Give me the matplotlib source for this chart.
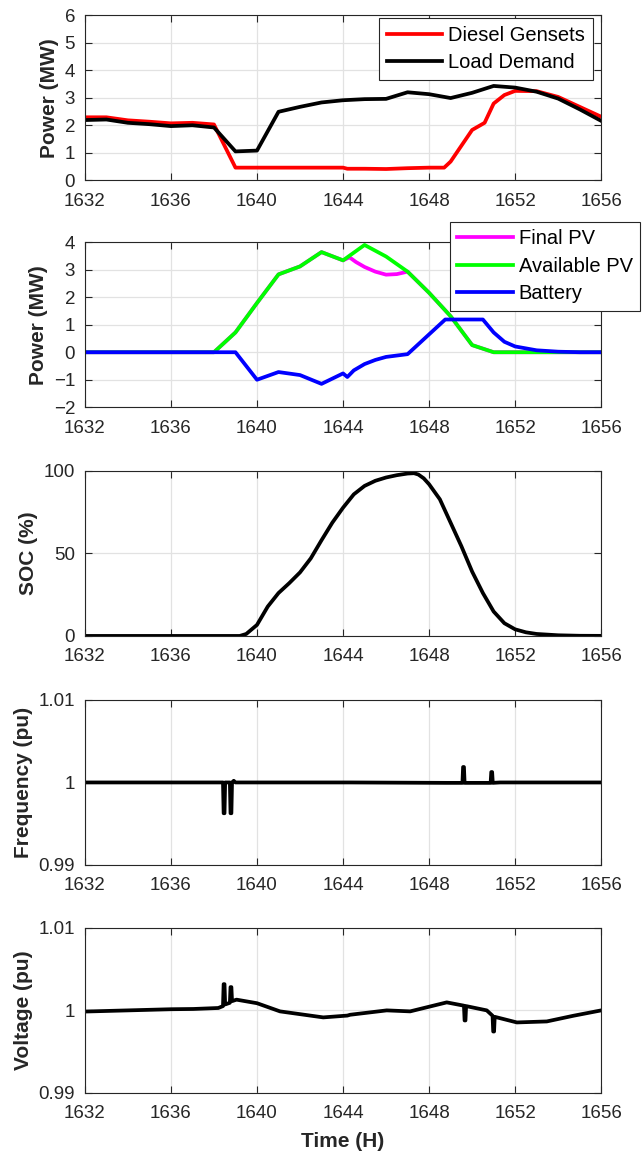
import matplotlib
matplotlib.use("Agg")
import matplotlib.pyplot as plt

plt.rcParams['font.family'] = ['Liberation Sans', 'DejaVu Sans']

# ---- panel 1: diesel gensets / load demand (MW)
hours = list(range(1632, 1657))
load_demand = [2.19, 2.21, 2.09, 2.04, 1.97, 2.00, 1.92, 1.05, 1.08, 2.49, 2.67, 2.83, 2.91,
               2.95, 2.96, 3.20, 3.13, 2.99, 3.18, 3.43, 3.37, 3.22, 2.97, 2.58, 2.16]
diesel_t = [1632, 1633, 1634, 1635, 1636, 1637, 1638, 1639, 1640, 1641, 1642, 1643, 1644,
            1644.2, 1645, 1646, 1647, 1648, 1648.7, 1649, 1650, 1650.58, 1651, 1651.5, 1652,
            1653, 1654, 1655, 1656]
diesel = [2.29, 2.29, 2.18, 2.13, 2.07, 2.09, 2.03, 0.46, 0.46, 0.46, 0.46, 0.46, 0.46,
          0.42, 0.42, 0.41, 0.44, 0.46, 0.46, 0.68, 1.83, 2.09, 2.79, 3.10, 3.25,
          3.24, 3.03, 2.67, 2.31]

# ---- panel 2: PV and battery (MW)
avail_pv = [0, 0, 0, 0, 0, 0, 0, 0.72, 1.79, 2.83, 3.12, 3.64, 3.34, 3.90, 3.48, 2.93,
            2.16, 1.31, 0.26, 0, 0, 0, 0, 0, 0]
final_pv_t = [1632, 1638, 1639, 1640, 1641, 1642, 1643, 1644, 1644.3, 1644.6, 1645, 1645.5,
              1646, 1646.5, 1647, 1648, 1649, 1650, 1651, 1656]
final_pv = [0, 0, 0.72, 1.79, 2.83, 3.12, 3.64, 3.34, 3.45, 3.28, 3.10, 2.93,
            2.82, 2.84, 2.93, 2.16, 1.31, 0.26, 0, 0]
batt_t = [1632, 1639, 1640, 1641, 1642, 1643, 1644, 1644.2, 1644.5, 1645, 1645.5, 1646,
          1647, 1648.75, 1650.5, 1651, 1651.5, 1652, 1653, 1654, 1655, 1656]
battery = [0, 0, -1.00, -0.72, -0.83, -1.15, -0.77, -0.90, -0.66, -0.43, -0.28, -0.17,
           -0.07, 1.19, 1.19, 0.72, 0.38, 0.21, 0.07, 0.02, 0.0, 0.0]

# ---- panel 3: state of charge (%)
soc_t = [1632, 1639.2, 1639.5, 1640, 1640.5, 1641, 1641.5, 1642, 1642.5, 1643, 1643.5, 1644,
         1644.5, 1645, 1645.5, 1646, 1646.5, 1647, 1647.3, 1647.5, 1647.75, 1648, 1648.5,
         1649, 1649.5, 1650, 1650.5, 1651, 1651.5, 1652, 1652.5, 1653, 1654, 1655, 1656]
soc = [0, 0, 1.2, 6.7, 17.8, 26.0, 32.0, 38.5, 47.0, 58.0, 68.6, 77.7, 85.8, 90.9, 94.0,
       96.0, 97.4, 98.4, 98.6, 97.8, 95.5, 91.9, 82.8, 68.6, 54.4, 39.0, 26.0, 14.8, 7.7,
       4.0, 2.2, 1.2, 0.4, 0.1, 0.05]

# ---- panel 4: frequency (pu)
freq_t = [1632, 1638.42, 1638.45, 1638.49, 1638.52, 1638.74, 1638.77, 1638.81, 1638.84,
          1638.92, 1639.0, 1644.3, 1648.8, 1649.55, 1649.58, 1649.62, 1649.65, 1650.0,
          1650.86, 1650.89, 1650.93, 1650.96, 1651.3, 1656]
freq = [1.0, 1.0, 0.99627, 0.99627, 1.0, 1.0, 0.99627, 0.99627, 1.0,
        1.0002, 1.0, 1.0, 0.99995, 0.99995, 1.00187, 1.00187, 0.99995, 0.99995,
        0.99995, 1.00126, 1.00126, 0.99995, 1.0, 1.0]

# ---- panel 5: voltage (pu)
volt_t = [1632, 1636, 1637.04, 1638.2, 1638.42, 1638.45, 1638.49, 1638.52, 1638.74,
          1638.77, 1638.81, 1638.84, 1639.05, 1640, 1641.07, 1643.08, 1644.2, 1644.33,
          1646.03, 1647.12, 1648.82, 1649.62, 1649.65, 1649.69, 1649.72, 1650.68,
          1650.95, 1650.98, 1651.02, 1651.05, 1652.08, 1653.47, 1654.71, 1656]
volt = [0.99984, 1.00012, 1.00015, 1.00027, 1.0005, 1.00316, 1.00316, 1.0007, 1.0009,
        1.0028, 1.0028, 1.0011, 1.00128, 1.00085, 0.99986, 0.99913, 0.99935, 0.99945,
        0.99998, 0.99986, 1.00095, 1.00055, 0.99876, 0.99876, 1.0005, 0.99998,
        0.99933, 0.99742, 0.99742, 0.9992, 0.99852, 0.99864, 0.99933, 0.99998]

dark = '#262626'
fig = plt.figure(figsize=(6.43, 11.55), dpi=100)
left, width, height = 0.132, 0.803, 0.1429
bottoms = [0.8439, 0.6474, 0.4494, 0.2511, 0.0539]
axes = [fig.add_axes([left, b, width, height]) for b in bottoms]

lw = 2.7
ax1, ax2, ax3, ax4, ax5 = axes
ax1.plot(diesel_t, diesel, color='#ff0000', lw=lw, label='Diesel Gensets')
ax1.plot(hours, load_demand, color='black', lw=lw, label='Load Demand')
ax1.set_ylim(0, 6)
ax1.set_yticks(range(0, 7))
ax1.set_ylabel('Power (MW)')

ax2.plot(final_pv_t, final_pv, color='#ff00ff', lw=lw, label='Final PV')
ax2.plot(hours, avail_pv, color='#00ff00', lw=lw, label='Available PV')
ax2.plot(batt_t, battery, color='#0000ff', lw=lw, label='Battery')
ax2.set_ylim(-2, 4)
ax2.set_yticks(range(-2, 5))
ax2.set_ylabel('Power (MW)')

ax3.plot(soc_t, soc, color='black', lw=lw)
ax3.set_ylim(0, 100)
ax3.set_yticks([0, 50, 100])
ax3.set_ylabel('SOC (%)')

ax4.plot(freq_t, freq, color='black', lw=lw, solid_joinstyle='round')
ax4.set_ylim(0.99, 1.01)
ax4.set_yticks([0.99, 1.0, 1.01], labels=['0.99', '1', '1.01'])
ax4.set_ylabel('Frequency (pu)')

ax5.plot(volt_t, volt, color='black', lw=lw, solid_joinstyle='round')
ax5.set_ylim(0.99, 1.01)
ax5.set_yticks([0.99, 1.0, 1.01], labels=['0.99', '1', '1.01'])
ax5.set_ylabel('Voltage (pu)')
ax5.set_xlabel('Time (H)', fontsize=15, fontweight='bold', color=dark, labelpad=7)

for ax in axes:
    ax.set_xlim(1632, 1656)
    ax.set_xticks(range(1632, 1657, 4))
    ax.grid(True, color='#e2e2e2', lw=0.9)
    ax.set_axisbelow(True)
    ax.tick_params(direction='in', top=True, right=True, labelsize=13.5,
                   colors=dark, length=5, width=0.8)
    ax.tick_params(axis='x', pad=9)
    ax.tick_params(axis='y', pad=7)
    for s in ax.spines.values():
        s.set_color(dark)
        s.set_linewidth(0.8)
    ax.yaxis.label.set_fontsize(15)
    ax.yaxis.label.set_fontweight('bold')
    ax.yaxis.label.set_color(dark)

leg_kw = dict(fontsize=14.5, fancybox=False, framealpha=1, edgecolor=dark,
              handlelength=2.75, handletextpad=0.3, labelspacing=0.42,
              borderpad=0.38, borderaxespad=0)
ax1.legend(loc='upper right', bbox_to_anchor=(0.984, 0.982), **leg_kw)
leg2 = ax2.legend(loc='upper right', bbox_to_anchor=(1.076, 1.124), **leg_kw)
leg2.set_zorder(10)
for leg in [ax1.get_legend(), leg2]:
    leg.get_frame().set_linewidth(0.8)

fig.savefig('out.png', dpi=100)
